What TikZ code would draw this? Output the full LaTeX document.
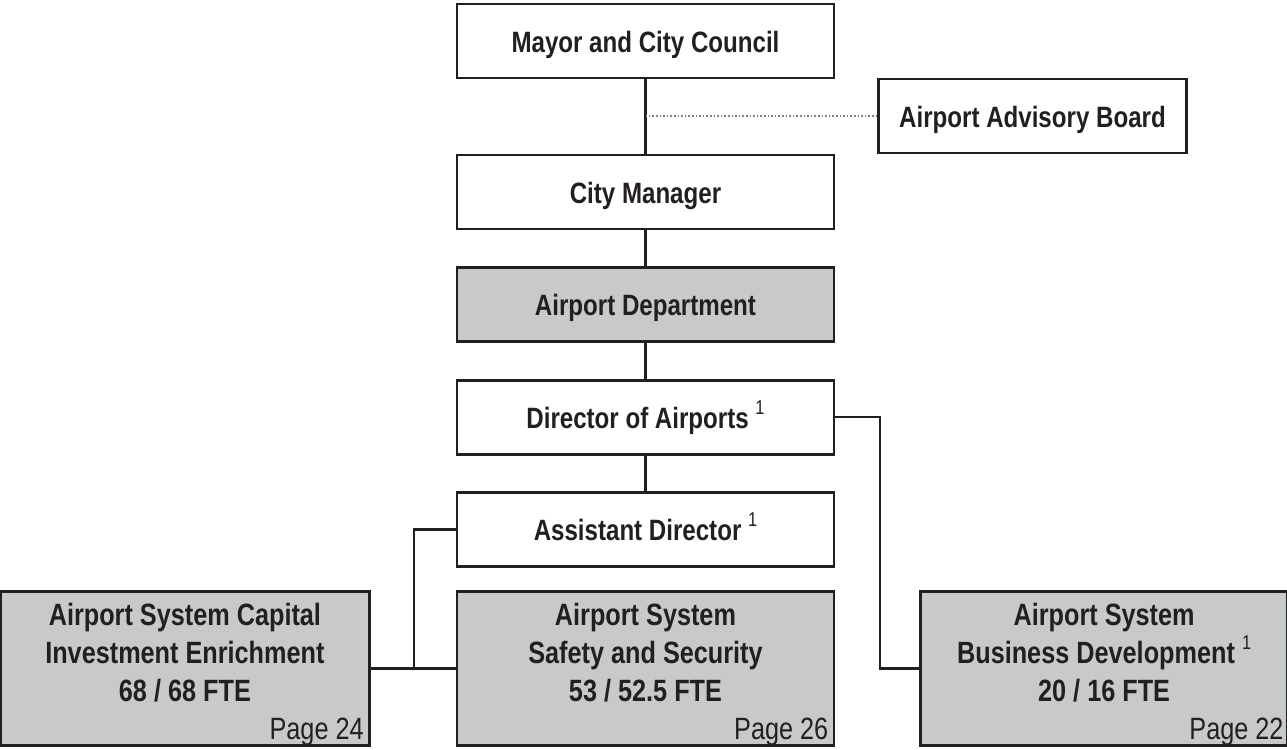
\documentclass[tikz,border=0pt]{standalone}
\usepackage{fontspec}
\setmainfont{Liberation Sans}[FakeStretch=0.82]
\usetikzlibrary{positioning}
\definecolor{inkdark}{HTML}{231F20}
\definecolor{boxgray}{HTML}{C8C9CB}
\newcommand{\noteone}{\raisebox{7pt}{\mdseries\fontsize{10}{10}\selectfont 1}}

\begin{document}
\begin{tikzpicture}[x=0.5pt, y=0.5pt,
    orgbox/.style={rectangle, draw=inkdark, line width=1.3pt, minimum width=188.5pt, minimum height=37pt, inner sep=0pt, text height=11.5pt, text depth=0pt, align=center, text=inkdark, font=\bfseries\fontsize{14.7}{16}\selectfont},
    grayorgbox/.style={orgbox, fill=boxgray},
    unitbox/.style={grayorgbox, minimum height=77pt},
    boxtext/.style={inner sep=0pt, align=center, text=inkdark, font=\bfseries\fontsize{15.4}{19}\selectfont},
    pagetag/.style={anchor=south east, inner xsep=3.3pt, inner ysep=0.3pt, text=inkdark, font=\fontsize{15.4}{16}\selectfont},
    link/.style={draw=inkdark, line width=1.1pt}]
    \useasboundingbox (0,0) rectangle (1287,-750);

    % Define nodes
    \node[orgbox] (mayor) at (645.5,-41) {Mayor and City Council};
    \node[orgbox, minimum width=154pt] (board) at (1032.5,-116) {Airport Advisory Board};
    \node[orgbox, below=37.25pt of mayor] (manager) {City Manager};
    \node[grayorgbox, below=17.75pt of manager] (airportdept) {Airport Department};
    \node[orgbox, below=18.25pt of airportdept] (director) {Director of Airports \noteone};
    \node[orgbox, below=17.75pt of director] (assistant) {Assistant Director \noteone};

    \node[unitbox, below=11.25pt of assistant] (safety) {};
    \node[unitbox, minimum width=184.5pt, left=42.5pt of safety] (capital) {};
    \node[unitbox, minimum width=183.5pt, right=42pt of safety] (business) {};

    \node[boxtext, below=6.25pt of capital.north] (capitaltxt) {Airport System Capital\\Investment Enrichment\\68 / 68 FTE};
    \node[boxtext, below=6.25pt of safety.north] (safetytxt) {Airport System\\Safety and Security\\53 / 52.5 FTE};
    \node[boxtext, below=6.25pt of business.north] (businesstxt) {Airport System\\Business Development \noteone\\20 / 16 FTE};

    \node[pagetag] (capitalpage) at (capital.south east) {Page 24};
    \node[pagetag] (safetypage) at (safety.south east) {Page 26};
    \node[pagetag, inner xsep=2.5pt] (businesspage) at (business.south east) {Page 22};

    % Connect nodes
    \draw[link] (mayor) -- (manager);
    \draw[link, draw=gray, line width=0.8pt, densely dotted] (board.west) -- (board.west -| mayor.south);
    \draw[link] (manager) -- (airportdept);
    \draw[link] (airportdept) -- (director);
    \draw[link] (director) -- (assistant);
    \draw[link] (director.east) -- ++(22.5pt,0) |- (business.west);
    \draw[link] (assistant.west) -- ++(-21pt,0) |- (safety.west);
    \draw[link] (capital) -- (safety);
\end{tikzpicture}
\end{document}
